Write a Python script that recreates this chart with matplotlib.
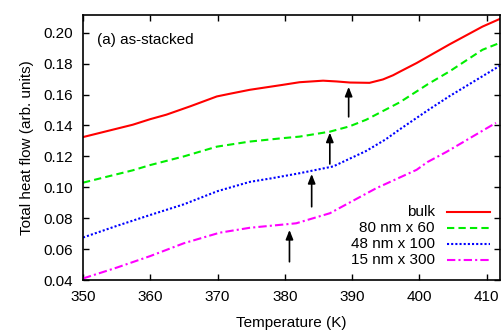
import numpy as np
import matplotlib
matplotlib.use("Agg")
import matplotlib.pyplot as plt

plt.rcParams['font.family'] = ['Liberation Sans', 'DejaVu Sans']

# values (temperature in K, heat flow in arb. units)
t_bulk = [350, 357.4, 360, 362.4, 366, 369.9, 371.8, 374.8, 379.7, 382.2, 385.7, 387.7,
          389.7, 392.6, 394.6, 396.1, 397.1, 399.6, 404.5, 409.4, 412]
y_bulk = [0.1325, 0.1405, 0.1441, 0.147, 0.1525, 0.1588, 0.1605, 0.1631, 0.1663, 0.168,
          0.169, 0.1685, 0.1678, 0.1676, 0.1698, 0.1725, 0.1748, 0.1804, 0.1925, 0.204, 0.209]

t_80 = [350, 357.4, 360, 365, 369.9, 374.8, 379.7, 382.2, 386.7, 389.6, 392.1, 397.1,
        401.3, 404.5, 409.4, 412]
y_80 = [0.103, 0.111, 0.1144, 0.120, 0.1263, 0.1296, 0.1318, 0.1328, 0.136, 0.1394,
        0.1437, 0.155, 0.1668, 0.175, 0.189, 0.1935]

t_48 = [350, 355, 360, 365, 370, 374.8, 378, 382.2, 387.2, 392.1, 395, 397.1,
        401.5, 404.5, 412]
y_48 = [0.0675, 0.075, 0.0821, 0.089, 0.0975, 0.1035, 0.1058, 0.1091, 0.1135, 0.1235,
        0.131, 0.1375, 0.1505, 0.159, 0.1787]

t_15 = [350, 355, 360, 365, 370.3, 374.8, 381.7, 386.7, 393.6, 399.6, 401.2, 404, 411.4]
y_15 = [0.041, 0.048, 0.0555, 0.0638, 0.0706, 0.0738, 0.0767, 0.0832, 0.0994, 0.1113,
        0.1163, 0.1228, 0.1417]

labels = ['bulk', '80 nm x 60', '48 nm x 100', '15 nm x 300']
colors = ['#ff0000', '#00ee00', '#0000ff', '#ff00ff']

# arrows marking the transitions: x, tail, head
arrow_x = [389.5, 386.7, 384.0, 380.7]
arrow_tail = [0.1456, 0.1151, 0.0874, 0.0518]
arrow_head = [0.1650, 0.1354, 0.1086, 0.0724]

fig = plt.figure(figsize=(5.04, 3.32), dpi=100)
ax = fig.add_axes([0.1647, 0.1566, 0.8273, 0.7982])

styles = [dict(linestyle='-'),
          dict(dashes=(3.5, 2)),
          dict(dashes=(1, 1)),
          dict(dashes=(4, 1.5, 1, 1.5))]
series = [(t_bulk, y_bulk), (t_80, y_80), (t_48, y_48), (t_15, y_15)]

for (t, y), c, st in zip(series, colors, styles):
    ax.plot(t, y, color=c, lw=1.5, **st)

for x, y0, y1 in zip(arrow_x, arrow_tail, arrow_head):
    ax.annotate('', xy=(x, y1), xytext=(x, y0),
                arrowprops=dict(arrowstyle='-|>,head_length=0.55,head_width=0.22',
                                color='black', lw=1.2, shrinkA=0, shrinkB=0))

# gnuplot-like legend: text right aligned, sample to the right
leg_y = [0.258, 0.195, 0.136, 0.075]
for lab, c, st, yy in zip(labels, colors, styles, leg_y):
    ax.text(0.844, yy, lab, transform=ax.transAxes, ha='right', va='center', fontsize=11)
    ax.plot([0.872, 0.976], [yy, yy], transform=ax.transAxes, color=c, lw=1.5, **st)

ax.text(0.033, 0.906, '(a) as-stacked', transform=ax.transAxes, ha='left', va='center',
        fontsize=11)

ax.set_xlim(350, 412)
ax.set_ylim(0.04, 0.2115)
ax.set_xticks(np.arange(350, 411, 10))
ax.set_yticks(np.arange(0.04, 0.2001, 0.02))
ax.set_yticklabels([f'{v:.2f}' for v in np.arange(0.04, 0.2001, 0.02)])

ax.tick_params(axis='both', direction='in', top=True, right=True, length=4.5, width=1,
               labelsize=11)
ax.tick_params(axis='x', pad=7)
ax.tick_params(axis='y', pad=7)
for s in ax.spines.values():
    s.set_linewidth(1.2)

ax.set_xlabel('Temperature (K)', fontsize=11, labelpad=9)
ax.set_ylabel('Total heat flow (arb. units)', fontsize=11, labelpad=7)

fig.savefig('out.png', dpi=100)
